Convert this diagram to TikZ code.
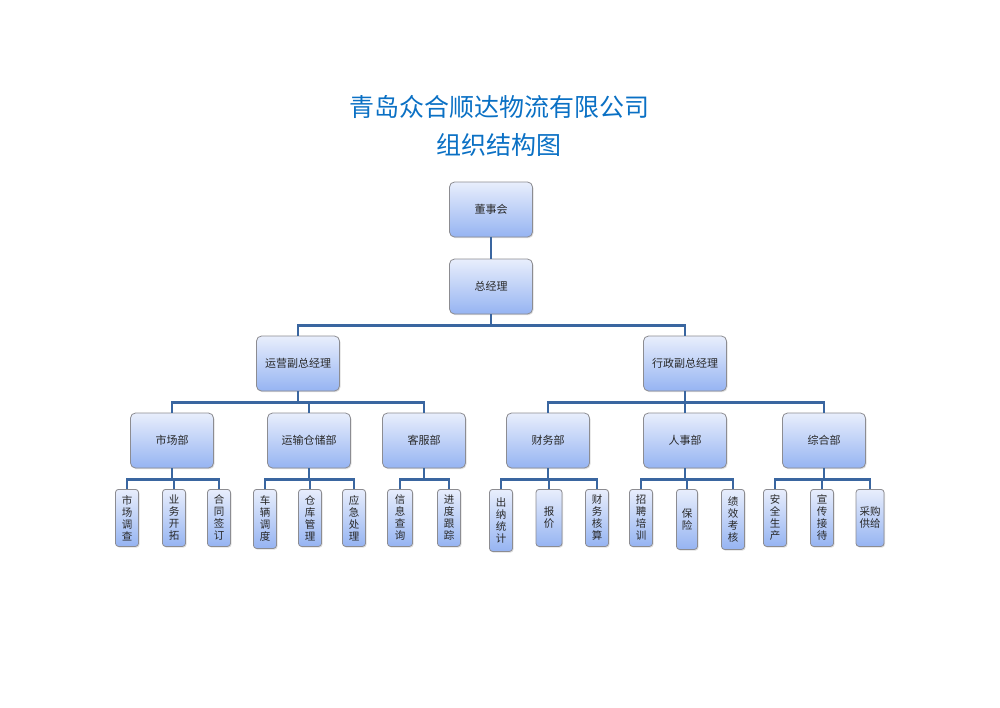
\documentclass[tikz,border=0pt]{standalone}
\usepackage{fontspec}
\newfontfamily\cjk{Noto Sans CJK SC}
\usetikzlibrary{shadows}
\definecolor{titleblue}{RGB}{10,112,196}
\definecolor{linkblue}{RGB}{58,102,160}
\definecolor{boxtop}{RGB}{232,238,252}
\definecolor{boxbot}{RGB}{150,180,242}
\definecolor{boxedge}{RGB}{140,140,145}
\definecolor{boxtext}{RGB}{40,40,40}
\tikzset{
  orgbox/.style={draw=boxedge, line width=0.8pt, rounded corners=5pt,
    top color=boxtop, bottom color=boxbot,
    minimum width=83pt, minimum height=55pt, inner sep=0pt,
    text=boxtext, font=\cjk\fontsize{11}{13}\selectfont,
    drop shadow={opacity=0.25, shadow xshift=1pt, shadow yshift=-1.2pt}},
  leafbox/.style={draw=boxedge, line width=0.8pt, rounded corners=3pt,
    top color=boxtop, bottom color=boxbot,
    minimum width=23pt, minimum height=57pt, inner sep=0pt, anchor=north,
    align=center, text=boxtext, font=\cjk\fontsize{10.5}{12}\selectfont,
    drop shadow={opacity=0.25, shadow xshift=1pt, shadow yshift=-1.2pt}},
  conn/.style={draw=linkblue, line width=2.6pt}
}
\begin{document}
\begin{tikzpicture}[x=1pt, y=-1pt]
\useasboundingbox (0,0) rectangle (1000,707);
\node[text=titleblue, font=\cjk\fontsize{25}{30}\selectfont] (t1) at (499,107) {青岛众合顺达物流有限公司};
\node[text=titleblue, font=\cjk\fontsize{25}{30}\selectfont] (t2) at (499,145) {组织结构图};

\node[orgbox] (dsh) at (491,209.5) {董事会};
\node[orgbox] (zjl) at (491,286.5) {总经理};
\node[orgbox] (yy) at (298,363.5) {运营副总经理};
\node[orgbox] (xz) at (685,363.5) {行政副总经理};

\node[orgbox] (sc) at (172,440.5) {市场部};
\node[orgbox] (ys) at (309,440.5) {运输仓储部};
\node[orgbox] (kf) at (424,440.5) {客服部};
\node[orgbox] (cw) at (548,440.5) {财务部};
\node[orgbox] (rs) at (685,440.5) {人事部};
\node[orgbox] (zh) at (824,440.5) {综合部};

\node[leafbox] (l1) at (127,489) {市\\场\\调\\查};
\node[leafbox] (l2) at (174,489) {业\\务\\开\\拓};
\node[leafbox] (l3) at (219,489) {合\\同\\签\\订};
\node[leafbox, minimum height=59pt] (l4) at (265,489) {车\\辆\\调\\度};
\node[leafbox] (l5) at (310,489) {仓\\库\\管\\理};
\node[leafbox] (l6) at (354,489) {应\\急\\处\\理};
\node[leafbox, minimum width=25pt] (l7) at (400,489) {信\\息\\查\\询};
\node[leafbox] (l8) at (449,489) {进\\度\\跟\\踪};
\node[leafbox, minimum height=62pt] (l9) at (501,489) {出\\纳\\统\\计};
\node[leafbox, minimum width=26pt] (l10) at (549,489) {报\\价};
\node[leafbox] (l11) at (597,489) {财\\务\\核\\算};
\node[leafbox] (l12) at (641,489) {招\\聘\\培\\训};
\node[leafbox, minimum width=21pt, minimum height=60pt] (l13) at (687,489) {保\\险};
\node[leafbox, minimum height=60pt] (l14) at (733,489) {绩\\效\\考\\核};
\node[leafbox] (l15) at (775,489) {安\\全\\生\\产};
\node[leafbox] (l16) at (822,489) {宣\\传\\接\\待};
\node[leafbox, minimum width=28pt] (l17) at (870,489) {采购\\供给};

\draw[conn] (dsh.south) -- (zjl.north);
\foreach \c in {yy,xz} \draw[conn] (zjl.south) -- ++(0,11) -| (\c.north);
\foreach \c in {sc,ys,kf} \draw[conn] (yy.south) -- ++(0,11) -| (\c.north);
\foreach \c in {cw,rs,zh} \draw[conn] (xz.south) -- ++(0,11) -| (\c.north);
\foreach \c in {l1,l2,l3} \draw[conn] (sc.south) -- ++(0,11) -| (\c.north);
\foreach \c in {l4,l5,l6} \draw[conn] (ys.south) -- ++(0,11) -| (\c.north);
\foreach \c in {l7,l8} \draw[conn] (kf.south) -- ++(0,11) -| (\c.north);
\foreach \c in {l9,l10,l11} \draw[conn] (cw.south) -- ++(0,11) -| (\c.north);
\foreach \c in {l12,l13,l14} \draw[conn] (rs.south) -- ++(0,11) -| (\c.north);
\foreach \c in {l15,l16,l17} \draw[conn] (zh.south) -- ++(0,11) -| (\c.north);
\end{tikzpicture}
\end{document}
